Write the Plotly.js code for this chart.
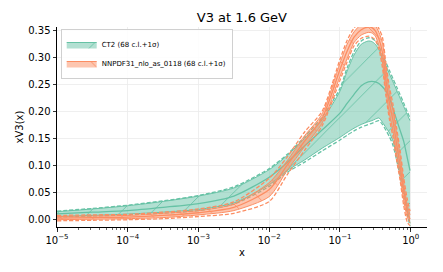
<!DOCTYPE html>
<html>
<head>
<meta charset="utf-8">
<script src="https://cdn.plot.ly/plotly-3.0.1.min.js"></script>
<style>html,body{margin:0;padding:0;background:#fff;}#chart{width:443px;height:272px;}</style>
</head>
<body>
<div id="chart"></div>
<script>
// x grid (momentum fraction)
const xGrid = [1e-5, 3.16e-5, 1e-4, 3.16e-4, 1e-3, 3.16e-3, 0.01, 0.0178, 0.0316, 0.0562, 0.1, 0.126, 0.158, 0.2, 0.251, 0.282, 0.316, 0.355, 0.398, 0.447, 0.501, 0.562, 0.631, 0.708, 0.794, 0.891, 0.977];

// CT2
const ct2Central = [0.010, 0.013, 0.016, 0.022, 0.029, 0.043, 0.078, 0.105, 0.136, 0.166, 0.197, 0.215, 0.232, 0.248, 0.255, 0.256, 0.255, 0.252, 0.246, 0.238, 0.225, 0.205, 0.185, 0.165, 0.145, 0.115, 0.090];
const ct2Upper   = [0.014, 0.019, 0.025, 0.033, 0.043, 0.058, 0.092, 0.118, 0.150, 0.185, 0.238, 0.275, 0.305, 0.325, 0.331, 0.330, 0.325, 0.315, 0.300, 0.285, 0.270, 0.255, 0.240, 0.225, 0.210, 0.195, 0.183];
const ct2Lower   = [0.005, 0.007, 0.0095, 0.013, 0.018, 0.030, 0.064, 0.090, 0.110, 0.132, 0.152, 0.161, 0.169, 0.176, 0.181, 0.183, 0.186, 0.188, 0.180, 0.170, 0.160, 0.145, 0.120, 0.090, 0.055, 0.020, -0.008];
const ct2SigUp   = [0.015, 0.020, 0.026, 0.034, 0.044, 0.060, 0.094, 0.120, 0.153, 0.190, 0.243, 0.281, 0.311, 0.331, 0.337, 0.336, 0.331, 0.321, 0.306, 0.291, 0.276, 0.261, 0.246, 0.231, 0.216, 0.200, 0.188];
const ct2SigLo   = [0.004, 0.006, 0.008, 0.011, 0.016, 0.028, 0.061, 0.087, 0.106, 0.127, 0.147, 0.156, 0.164, 0.171, 0.176, 0.178, 0.181, 0.183, 0.176, 0.165, 0.153, 0.137, 0.110, 0.080, 0.045, 0.010, -0.013];

// NNPDF31_nlo_as_0118
const nnCentral = [0.002, 0.003, 0.004, 0.007, 0.012, 0.022, 0.055, 0.100, 0.145, 0.188, 0.278, 0.312, 0.338, 0.352, 0.357, 0.356, 0.350, 0.335, 0.310, 0.258, 0.215, 0.183, 0.140, 0.100, 0.052, 0.015, 0.000];
const nnUpper   = [0.005, 0.006, 0.007, 0.011, 0.016, 0.028, 0.068, 0.108, 0.155, 0.196, 0.290, 0.325, 0.348, 0.362, 0.367, 0.366, 0.360, 0.347, 0.328, 0.278, 0.235, 0.203, 0.160, 0.118, 0.068, 0.028, 0.008];
const nnLower   = [-0.001, 0.000, 0.001, 0.003, 0.008, 0.016, 0.042, 0.090, 0.135, 0.179, 0.265, 0.298, 0.328, 0.342, 0.347, 0.346, 0.340, 0.323, 0.292, 0.238, 0.195, 0.163, 0.120, 0.082, 0.036, 0.004, -0.006];
const nnSigUp   = [0.007, 0.008, 0.009, 0.013, 0.019, 0.032, 0.076, 0.115, 0.162, 0.201, 0.297, 0.332, 0.355, 0.368, 0.373, 0.372, 0.367, 0.354, 0.338, 0.288, 0.245, 0.213, 0.170, 0.128, 0.078, 0.038, 0.015];
const nnSigLo   = [-0.003, -0.002, -0.001, 0.001, 0.005, 0.011, 0.033, 0.082, 0.128, 0.174, 0.258, 0.292, 0.322, 0.336, 0.340, 0.338, 0.333, 0.316, 0.282, 0.228, 0.185, 0.153, 0.110, 0.072, 0.026, -0.005, -0.012];

// tick labels
const yTickVals = [0, 0.05, 0.10, 0.15, 0.20, 0.25, 0.30, 0.35];
const yTickText = ['0.00', '0.05', '0.10', '0.15', '0.20', '0.25', '0.30', '0.35'];
const xTickVals = [1e-5, 1e-4, 1e-3, 1e-2, 1e-1, 1];
const xTickText = ['10<sup>−5</sup>', '10<sup>−4</sup>', '10<sup>−3</sup>', '10<sup>−2</sup>', '10<sup>−1</sup>', '10<sup>0</sup>'];

const labels = ['CT2 (68 c.l.+1σ)', 'NNPDF31_nlo_as_0118 (68 c.l.+1σ)'];

const green = '#66c2a5', greenFill = 'rgba(102,194,165,0.5)';
const orange = '#fc8d62', orangeFill = 'rgba(252,141,98,0.5)';

function pdfTraces(lo, up, c, su, sl, col, fill, shape, name) {
  const ln = (w, d) => ({color: col, width: w, dash: d || 'solid', shape: 'spline', smoothing: 0.7});
  return [
    {x: xGrid, y: lo, mode: 'lines', line: ln(1), showlegend: false, hoverinfo: 'skip'},
    {x: xGrid, y: up, mode: 'lines', line: ln(1), fill: 'tonexty', fillcolor: fill,
     fillpattern: {shape: shape, bgcolor: fill, fgcolor: col, size: 22, solidity: 0.04, fillmode: 'replace'},
     name: name, showlegend: true},
    {x: xGrid, y: c, mode: 'lines', line: ln(1.3), showlegend: false},
    {x: xGrid, y: su, mode: 'lines', line: ln(1.3, '4px,2px'), showlegend: false},
    {x: xGrid, y: sl, mode: 'lines', line: ln(1.3, '4px,2px'), showlegend: false}
  ];
}

const data = [].concat(
  pdfTraces(ct2Lower, ct2Upper, ct2Central, ct2SigUp, ct2SigLo, green, greenFill, '/', labels[0]),
  pdfTraces(nnLower, nnUpper, nnCentral, nnSigUp, nnSigLo, orange, orangeFill, '\\', labels[1])
);

const font = 'DejaVu Sans, sans-serif';
const layout = {
  width: 443, height: 272,
  margin: {l: 57, r: 16, t: 27, b: 45},
  paper_bgcolor: '#fff', plot_bgcolor: '#fff',
  font: {family: font, size: 10, color: '#000'},
  title: {text: 'V3 at 1.6 GeV', font: {family: font, size: 13, color: '#000'}, x: 0.546, xanchor: 'center', y: 0.935, yanchor: 'middle'},
  xaxis: {
    type: 'log', range: [-5, 0.23],
    tickvals: xTickVals, ticktext: xTickText,
    ticks: 'outside', ticklen: 3.5, tickwidth: 0.8, tickcolor: '#000',
    showline: true, linecolor: '#000', linewidth: 1, mirror: false,
    showgrid: true, gridcolor: '#ebebeb', gridwidth: 0.8, zeroline: false,
    minor: {ticks: 'outside', ticklen: 2, tickwidth: 0.6, tickcolor: '#000', showgrid: false, dtick: 'D1'},
    tickfont: {family: font, size: 10},
    title: {text: 'x', font: {family: font, size: 10}, standoff: 4}
  },
  yaxis: {
    range: [-0.0145, 0.357],
    tickvals: yTickVals, ticktext: yTickText,
    ticks: 'outside', ticklen: 3.5, tickwidth: 0.8, tickcolor: '#000',
    showline: true, linecolor: '#000', linewidth: 1, mirror: false,
    showgrid: true, gridcolor: '#ebebeb', gridwidth: 0.8, zeroline: false,
    tickfont: {family: font, size: 10},
    title: {text: 'xV3(x)', font: {family: font, size: 10}, standoff: 2}
  },
  legend: {
    x: 0.01, y: 0.99, xanchor: 'left', yanchor: 'top', traceorder: 'normal',
    bgcolor: 'rgba(255,255,255,0.85)', bordercolor: '#d0d0d0', borderwidth: 1,
    font: {family: font, size: 7}, itemwidth: 30, tracegroupgap: 0
  },
  showlegend: true
};

Plotly.newPlot('chart', data, layout, {displayModeBar: false, staticPlot: true});
</script>
</body>
</html>
